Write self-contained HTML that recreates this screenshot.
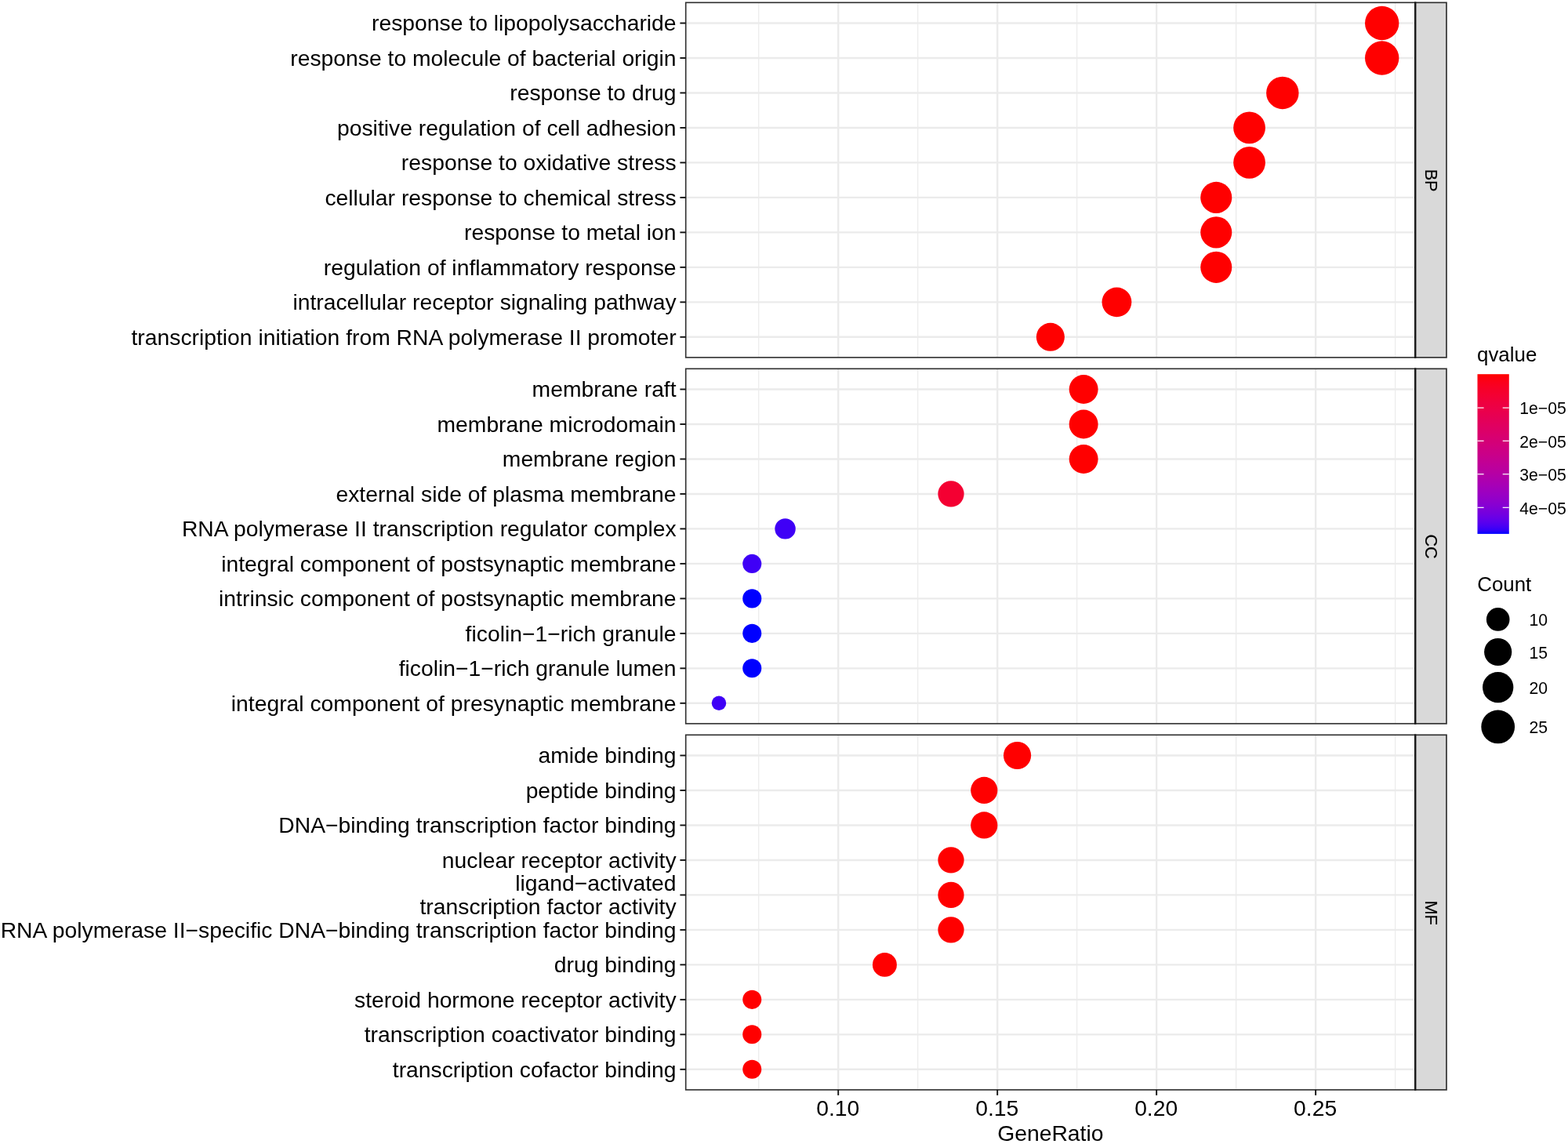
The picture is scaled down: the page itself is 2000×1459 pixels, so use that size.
<!DOCTYPE html><html><head><meta charset="utf-8"><style>html,body{margin:0;padding:0;background:#fff;}svg{display:block}</style></head><body>
<svg width="2000" height="1459" viewBox="0 0 2000 1459" font-family='"Liberation Sans", Arial, Helvetica, sans-serif'>
<rect x="0" y="0" width="2000" height="1459" fill="#FFFFFF"/>
<g>
<line x1="967.73" y1="3.30" x2="967.73" y2="455.90" stroke="#EBEBEB" stroke-width="1.2"/>
<line x1="1170.70" y1="3.30" x2="1170.70" y2="455.90" stroke="#EBEBEB" stroke-width="1.2"/>
<line x1="1373.68" y1="3.30" x2="1373.68" y2="455.90" stroke="#EBEBEB" stroke-width="1.2"/>
<line x1="1576.65" y1="3.30" x2="1576.65" y2="455.90" stroke="#EBEBEB" stroke-width="1.2"/>
<line x1="1779.63" y1="3.30" x2="1779.63" y2="455.90" stroke="#EBEBEB" stroke-width="1.2"/>
<line x1="1069.22" y1="3.30" x2="1069.22" y2="455.90" stroke="#EBEBEB" stroke-width="2.4"/>
<line x1="1272.19" y1="3.30" x2="1272.19" y2="455.90" stroke="#EBEBEB" stroke-width="2.4"/>
<line x1="1475.17" y1="3.30" x2="1475.17" y2="455.90" stroke="#EBEBEB" stroke-width="2.4"/>
<line x1="1678.14" y1="3.30" x2="1678.14" y2="455.90" stroke="#EBEBEB" stroke-width="2.4"/>
<line x1="874.70" y1="29.50" x2="1805.00" y2="29.50" stroke="#EBEBEB" stroke-width="2.4"/>
<line x1="874.70" y1="73.98" x2="1805.00" y2="73.98" stroke="#EBEBEB" stroke-width="2.4"/>
<line x1="874.70" y1="118.46" x2="1805.00" y2="118.46" stroke="#EBEBEB" stroke-width="2.4"/>
<line x1="874.70" y1="162.94" x2="1805.00" y2="162.94" stroke="#EBEBEB" stroke-width="2.4"/>
<line x1="874.70" y1="207.42" x2="1805.00" y2="207.42" stroke="#EBEBEB" stroke-width="2.4"/>
<line x1="874.70" y1="251.90" x2="1805.00" y2="251.90" stroke="#EBEBEB" stroke-width="2.4"/>
<line x1="874.70" y1="296.38" x2="1805.00" y2="296.38" stroke="#EBEBEB" stroke-width="2.4"/>
<line x1="874.70" y1="340.86" x2="1805.00" y2="340.86" stroke="#EBEBEB" stroke-width="2.4"/>
<line x1="874.70" y1="385.34" x2="1805.00" y2="385.34" stroke="#EBEBEB" stroke-width="2.4"/>
<line x1="874.70" y1="429.82" x2="1805.00" y2="429.82" stroke="#EBEBEB" stroke-width="2.4"/>
<circle cx="1762.71" cy="29.50" r="21.70" fill="#FF0000"/>
<circle cx="1762.71" cy="73.98" r="21.70" fill="#FF0000"/>
<circle cx="1635.85" cy="118.46" r="20.73" fill="#FF0000"/>
<circle cx="1593.57" cy="162.94" r="20.39" fill="#FF0000"/>
<circle cx="1593.57" cy="207.42" r="20.39" fill="#FF0000"/>
<circle cx="1551.28" cy="251.90" r="20.03" fill="#FF0000"/>
<circle cx="1551.28" cy="296.38" r="20.03" fill="#FF0000"/>
<circle cx="1551.28" cy="340.86" r="20.03" fill="#FF0000"/>
<circle cx="1424.42" cy="385.34" r="18.89" fill="#FF0000"/>
<circle cx="1339.85" cy="429.82" r="18.05" fill="#FF0000"/>
<rect x="874.70" y="3.30" width="930.30" height="452.60" fill="none" stroke="#333333" stroke-width="1.65"/>
<rect x="1805.00" y="3.30" width="40.00" height="452.60" fill="#D9D9D9" stroke="#333333" stroke-width="1.7"/>
<line x1="1805.25" y1="2.50" x2="1805.25" y2="456.70" stroke="#1A1A1A" stroke-width="2.4"/>
<text x="0" y="0" transform="translate(1817.50,230.10) rotate(90)" font-size="21.7" text-anchor="middle" fill="#000" stroke="#000" stroke-width="0.15">BP</text>
<line x1="867.40" y1="29.50" x2="874.70" y2="29.50" stroke="#111" stroke-width="1.9"/>
<text x="862.6" y="39.25" font-size="28.3" text-anchor="end" fill="#000">response to lipopolysaccharide</text>
<line x1="867.40" y1="73.98" x2="874.70" y2="73.98" stroke="#111" stroke-width="1.9"/>
<text x="862.6" y="83.73" font-size="28.3" text-anchor="end" fill="#000">response to molecule of bacterial origin</text>
<line x1="867.40" y1="118.46" x2="874.70" y2="118.46" stroke="#111" stroke-width="1.9"/>
<text x="862.6" y="128.21" font-size="28.3" text-anchor="end" fill="#000">response to drug</text>
<line x1="867.40" y1="162.94" x2="874.70" y2="162.94" stroke="#111" stroke-width="1.9"/>
<text x="862.6" y="172.69" font-size="28.3" text-anchor="end" fill="#000">positive regulation of cell adhesion</text>
<line x1="867.40" y1="207.42" x2="874.70" y2="207.42" stroke="#111" stroke-width="1.9"/>
<text x="862.6" y="217.17" font-size="28.3" text-anchor="end" fill="#000">response to oxidative stress</text>
<line x1="867.40" y1="251.90" x2="874.70" y2="251.90" stroke="#111" stroke-width="1.9"/>
<text x="862.6" y="261.65" font-size="28.3" text-anchor="end" fill="#000">cellular response to chemical stress</text>
<line x1="867.40" y1="296.38" x2="874.70" y2="296.38" stroke="#111" stroke-width="1.9"/>
<text x="862.6" y="306.13" font-size="28.3" text-anchor="end" fill="#000">response to metal ion</text>
<line x1="867.40" y1="340.86" x2="874.70" y2="340.86" stroke="#111" stroke-width="1.9"/>
<text x="862.6" y="350.61" font-size="28.3" text-anchor="end" fill="#000">regulation of inflammatory response</text>
<line x1="867.40" y1="385.34" x2="874.70" y2="385.34" stroke="#111" stroke-width="1.9"/>
<text x="862.6" y="395.09" font-size="28.3" text-anchor="end" fill="#000">intracellular receptor signaling pathway</text>
<line x1="867.40" y1="429.82" x2="874.70" y2="429.82" stroke="#111" stroke-width="1.9"/>
<text x="862.6" y="439.57" font-size="28.3" text-anchor="end" fill="#000">transcription initiation from RNA polymerase II promoter</text>
</g>
<g>
<line x1="967.73" y1="470.30" x2="967.73" y2="922.90" stroke="#EBEBEB" stroke-width="1.2"/>
<line x1="1170.70" y1="470.30" x2="1170.70" y2="922.90" stroke="#EBEBEB" stroke-width="1.2"/>
<line x1="1373.68" y1="470.30" x2="1373.68" y2="922.90" stroke="#EBEBEB" stroke-width="1.2"/>
<line x1="1576.65" y1="470.30" x2="1576.65" y2="922.90" stroke="#EBEBEB" stroke-width="1.2"/>
<line x1="1779.63" y1="470.30" x2="1779.63" y2="922.90" stroke="#EBEBEB" stroke-width="1.2"/>
<line x1="1069.22" y1="470.30" x2="1069.22" y2="922.90" stroke="#EBEBEB" stroke-width="2.4"/>
<line x1="1272.19" y1="470.30" x2="1272.19" y2="922.90" stroke="#EBEBEB" stroke-width="2.4"/>
<line x1="1475.17" y1="470.30" x2="1475.17" y2="922.90" stroke="#EBEBEB" stroke-width="2.4"/>
<line x1="1678.14" y1="470.30" x2="1678.14" y2="922.90" stroke="#EBEBEB" stroke-width="2.4"/>
<line x1="874.70" y1="496.50" x2="1805.00" y2="496.50" stroke="#EBEBEB" stroke-width="2.4"/>
<line x1="874.70" y1="540.98" x2="1805.00" y2="540.98" stroke="#EBEBEB" stroke-width="2.4"/>
<line x1="874.70" y1="585.46" x2="1805.00" y2="585.46" stroke="#EBEBEB" stroke-width="2.4"/>
<line x1="874.70" y1="629.94" x2="1805.00" y2="629.94" stroke="#EBEBEB" stroke-width="2.4"/>
<line x1="874.70" y1="674.42" x2="1805.00" y2="674.42" stroke="#EBEBEB" stroke-width="2.4"/>
<line x1="874.70" y1="718.90" x2="1805.00" y2="718.90" stroke="#EBEBEB" stroke-width="2.4"/>
<line x1="874.70" y1="763.38" x2="1805.00" y2="763.38" stroke="#EBEBEB" stroke-width="2.4"/>
<line x1="874.70" y1="807.86" x2="1805.00" y2="807.86" stroke="#EBEBEB" stroke-width="2.4"/>
<line x1="874.70" y1="852.34" x2="1805.00" y2="852.34" stroke="#EBEBEB" stroke-width="2.4"/>
<line x1="874.70" y1="896.82" x2="1805.00" y2="896.82" stroke="#EBEBEB" stroke-width="2.4"/>
<circle cx="1382.14" cy="496.50" r="18.48" fill="#FF0000"/>
<circle cx="1382.14" cy="540.98" r="18.48" fill="#FF0000"/>
<circle cx="1382.14" cy="585.46" r="18.48" fill="#FF0000"/>
<circle cx="1212.99" cy="629.94" r="16.62" fill="#F40032"/>
<circle cx="1001.56" cy="674.42" r="13.19" fill="#3F00F6"/>
<circle cx="959.27" cy="718.90" r="12.03" fill="#3F00F6"/>
<circle cx="959.27" cy="763.38" r="12.03" fill="#0000FF"/>
<circle cx="959.27" cy="807.86" r="12.03" fill="#0000FF"/>
<circle cx="959.27" cy="852.34" r="12.03" fill="#0000FF"/>
<circle cx="916.99" cy="896.82" r="9.25" fill="#3F00F6"/>
<rect x="874.70" y="470.30" width="930.30" height="452.60" fill="none" stroke="#333333" stroke-width="1.65"/>
<rect x="1805.00" y="470.30" width="40.00" height="452.60" fill="#D9D9D9" stroke="#333333" stroke-width="1.7"/>
<line x1="1805.25" y1="469.50" x2="1805.25" y2="923.70" stroke="#1A1A1A" stroke-width="2.4"/>
<text x="0" y="0" transform="translate(1817.50,697.10) rotate(90)" font-size="21.7" text-anchor="middle" fill="#000" stroke="#000" stroke-width="0.15">CC</text>
<line x1="867.40" y1="496.50" x2="874.70" y2="496.50" stroke="#111" stroke-width="1.9"/>
<text x="862.6" y="506.25" font-size="28.3" text-anchor="end" fill="#000">membrane raft</text>
<line x1="867.40" y1="540.98" x2="874.70" y2="540.98" stroke="#111" stroke-width="1.9"/>
<text x="862.6" y="550.73" font-size="28.3" text-anchor="end" fill="#000">membrane microdomain</text>
<line x1="867.40" y1="585.46" x2="874.70" y2="585.46" stroke="#111" stroke-width="1.9"/>
<text x="862.6" y="595.21" font-size="28.3" text-anchor="end" fill="#000">membrane region</text>
<line x1="867.40" y1="629.94" x2="874.70" y2="629.94" stroke="#111" stroke-width="1.9"/>
<text x="862.6" y="639.69" font-size="28.3" text-anchor="end" fill="#000">external side of plasma membrane</text>
<line x1="867.40" y1="674.42" x2="874.70" y2="674.42" stroke="#111" stroke-width="1.9"/>
<text x="862.6" y="684.17" font-size="28.3" text-anchor="end" fill="#000">RNA polymerase II transcription regulator complex</text>
<line x1="867.40" y1="718.90" x2="874.70" y2="718.90" stroke="#111" stroke-width="1.9"/>
<text x="862.6" y="728.65" font-size="28.3" text-anchor="end" fill="#000">integral component of postsynaptic membrane</text>
<line x1="867.40" y1="763.38" x2="874.70" y2="763.38" stroke="#111" stroke-width="1.9"/>
<text x="862.6" y="773.13" font-size="28.3" text-anchor="end" fill="#000">intrinsic component of postsynaptic membrane</text>
<line x1="867.40" y1="807.86" x2="874.70" y2="807.86" stroke="#111" stroke-width="1.9"/>
<text x="862.6" y="817.61" font-size="28.3" text-anchor="end" fill="#000">ficolin−1−rich granule</text>
<line x1="867.40" y1="852.34" x2="874.70" y2="852.34" stroke="#111" stroke-width="1.9"/>
<text x="862.6" y="862.09" font-size="28.3" text-anchor="end" fill="#000">ficolin−1−rich granule lumen</text>
<line x1="867.40" y1="896.82" x2="874.70" y2="896.82" stroke="#111" stroke-width="1.9"/>
<text x="862.6" y="906.57" font-size="28.3" text-anchor="end" fill="#000">integral component of presynaptic membrane</text>
</g>
<g>
<line x1="967.73" y1="937.30" x2="967.73" y2="1389.90" stroke="#EBEBEB" stroke-width="1.2"/>
<line x1="1170.70" y1="937.30" x2="1170.70" y2="1389.90" stroke="#EBEBEB" stroke-width="1.2"/>
<line x1="1373.68" y1="937.30" x2="1373.68" y2="1389.90" stroke="#EBEBEB" stroke-width="1.2"/>
<line x1="1576.65" y1="937.30" x2="1576.65" y2="1389.90" stroke="#EBEBEB" stroke-width="1.2"/>
<line x1="1779.63" y1="937.30" x2="1779.63" y2="1389.90" stroke="#EBEBEB" stroke-width="1.2"/>
<line x1="1069.22" y1="937.30" x2="1069.22" y2="1389.90" stroke="#EBEBEB" stroke-width="2.4"/>
<line x1="1272.19" y1="937.30" x2="1272.19" y2="1389.90" stroke="#EBEBEB" stroke-width="2.4"/>
<line x1="1475.17" y1="937.30" x2="1475.17" y2="1389.90" stroke="#EBEBEB" stroke-width="2.4"/>
<line x1="1678.14" y1="937.30" x2="1678.14" y2="1389.90" stroke="#EBEBEB" stroke-width="2.4"/>
<line x1="874.70" y1="963.50" x2="1805.00" y2="963.50" stroke="#EBEBEB" stroke-width="2.4"/>
<line x1="874.70" y1="1007.98" x2="1805.00" y2="1007.98" stroke="#EBEBEB" stroke-width="2.4"/>
<line x1="874.70" y1="1052.46" x2="1805.00" y2="1052.46" stroke="#EBEBEB" stroke-width="2.4"/>
<line x1="874.70" y1="1096.94" x2="1805.00" y2="1096.94" stroke="#EBEBEB" stroke-width="2.4"/>
<line x1="874.70" y1="1141.42" x2="1805.00" y2="1141.42" stroke="#EBEBEB" stroke-width="2.4"/>
<line x1="874.70" y1="1185.90" x2="1805.00" y2="1185.90" stroke="#EBEBEB" stroke-width="2.4"/>
<line x1="874.70" y1="1230.38" x2="1805.00" y2="1230.38" stroke="#EBEBEB" stroke-width="2.4"/>
<line x1="874.70" y1="1274.86" x2="1805.00" y2="1274.86" stroke="#EBEBEB" stroke-width="2.4"/>
<line x1="874.70" y1="1319.34" x2="1805.00" y2="1319.34" stroke="#EBEBEB" stroke-width="2.4"/>
<line x1="874.70" y1="1363.82" x2="1805.00" y2="1363.82" stroke="#EBEBEB" stroke-width="2.4"/>
<circle cx="1297.56" cy="963.50" r="17.60" fill="#FF0000"/>
<circle cx="1255.28" cy="1007.98" r="17.12" fill="#FF0000"/>
<circle cx="1255.28" cy="1052.46" r="17.12" fill="#FF0000"/>
<circle cx="1212.99" cy="1096.94" r="16.62" fill="#FF0000"/>
<circle cx="1212.99" cy="1141.42" r="16.62" fill="#FF0000"/>
<circle cx="1212.99" cy="1185.90" r="16.62" fill="#FF0000"/>
<circle cx="1128.42" cy="1230.38" r="15.47" fill="#FF0000"/>
<circle cx="959.27" cy="1274.86" r="12.03" fill="#FF0000"/>
<circle cx="959.27" cy="1319.34" r="12.03" fill="#FF0000"/>
<circle cx="959.27" cy="1363.82" r="12.03" fill="#FF0000"/>
<rect x="874.70" y="937.30" width="930.30" height="452.60" fill="none" stroke="#333333" stroke-width="1.65"/>
<rect x="1805.00" y="937.30" width="40.00" height="452.60" fill="#D9D9D9" stroke="#333333" stroke-width="1.7"/>
<line x1="1805.25" y1="936.50" x2="1805.25" y2="1390.70" stroke="#1A1A1A" stroke-width="2.4"/>
<text x="0" y="0" transform="translate(1817.50,1164.10) rotate(90)" font-size="21.7" text-anchor="middle" fill="#000" stroke="#000" stroke-width="0.15">MF</text>
<line x1="867.40" y1="963.50" x2="874.70" y2="963.50" stroke="#111" stroke-width="1.9"/>
<text x="862.6" y="973.25" font-size="28.3" text-anchor="end" fill="#000">amide binding</text>
<line x1="867.40" y1="1007.98" x2="874.70" y2="1007.98" stroke="#111" stroke-width="1.9"/>
<text x="862.6" y="1017.73" font-size="28.3" text-anchor="end" fill="#000">peptide binding</text>
<line x1="867.40" y1="1052.46" x2="874.70" y2="1052.46" stroke="#111" stroke-width="1.9"/>
<text x="862.6" y="1062.21" font-size="28.3" text-anchor="end" fill="#000">DNA−binding transcription factor binding</text>
<line x1="867.40" y1="1096.94" x2="874.70" y2="1096.94" stroke="#111" stroke-width="1.9"/>
<text x="862.6" y="1106.69" font-size="28.3" text-anchor="end" fill="#000">nuclear receptor activity</text>
<line x1="867.40" y1="1141.42" x2="874.70" y2="1141.42" stroke="#111" stroke-width="1.9"/>
<text x="862.6" y="1135.97" font-size="28.3" text-anchor="end" fill="#000">ligand−activated</text>
<text x="862.6" y="1166.37" font-size="28.3" text-anchor="end" fill="#000">transcription factor activity</text>
<line x1="867.40" y1="1185.90" x2="874.70" y2="1185.90" stroke="#111" stroke-width="1.9"/>
<text x="862.6" y="1195.65" font-size="28.3" text-anchor="end" fill="#000">RNA polymerase II−specific DNA−binding transcription factor binding</text>
<line x1="867.40" y1="1230.38" x2="874.70" y2="1230.38" stroke="#111" stroke-width="1.9"/>
<text x="862.6" y="1240.13" font-size="28.3" text-anchor="end" fill="#000">drug binding</text>
<line x1="867.40" y1="1274.86" x2="874.70" y2="1274.86" stroke="#111" stroke-width="1.9"/>
<text x="862.6" y="1284.61" font-size="28.3" text-anchor="end" fill="#000">steroid hormone receptor activity</text>
<line x1="867.40" y1="1319.34" x2="874.70" y2="1319.34" stroke="#111" stroke-width="1.9"/>
<text x="862.6" y="1329.09" font-size="28.3" text-anchor="end" fill="#000">transcription coactivator binding</text>
<line x1="867.40" y1="1363.82" x2="874.70" y2="1363.82" stroke="#111" stroke-width="1.9"/>
<text x="862.6" y="1373.57" font-size="28.3" text-anchor="end" fill="#000">transcription cofactor binding</text>
</g>
<line x1="1069.22" y1="1389.90" x2="1069.22" y2="1396.90" stroke="#111" stroke-width="1.9"/>
<text x="1068.72" y="1422.6" font-size="28.3" text-anchor="middle" fill="#000">0.10</text>
<line x1="1272.19" y1="1389.90" x2="1272.19" y2="1396.90" stroke="#111" stroke-width="1.9"/>
<text x="1271.69" y="1422.6" font-size="28.3" text-anchor="middle" fill="#000">0.15</text>
<line x1="1475.17" y1="1389.90" x2="1475.17" y2="1396.90" stroke="#111" stroke-width="1.9"/>
<text x="1474.67" y="1422.6" font-size="28.3" text-anchor="middle" fill="#000">0.20</text>
<line x1="1678.14" y1="1389.90" x2="1678.14" y2="1396.90" stroke="#111" stroke-width="1.9"/>
<text x="1677.64" y="1422.6" font-size="28.3" text-anchor="middle" fill="#000">0.25</text>
<text x="1339.85" y="1454.6" font-size="28.3" text-anchor="middle" fill="#000">GeneRatio</text>
<text x="1884.0" y="461.4" font-size="25.9" fill="#000">qvalue</text>
<defs><linearGradient id="qg" x1="0" y1="0" x2="0" y2="1">
<stop offset="0.000" stop-color="#FF0000"/>
<stop offset="0.025" stop-color="#FD000F"/>
<stop offset="0.050" stop-color="#FB001A"/>
<stop offset="0.075" stop-color="#F90023"/>
<stop offset="0.100" stop-color="#F6002A"/>
<stop offset="0.125" stop-color="#F40031"/>
<stop offset="0.150" stop-color="#F20037"/>
<stop offset="0.175" stop-color="#EF003E"/>
<stop offset="0.200" stop-color="#ED0044"/>
<stop offset="0.225" stop-color="#EB004A"/>
<stop offset="0.250" stop-color="#E80050"/>
<stop offset="0.275" stop-color="#E50055"/>
<stop offset="0.300" stop-color="#E3005B"/>
<stop offset="0.325" stop-color="#E00061"/>
<stop offset="0.350" stop-color="#DD0066"/>
<stop offset="0.375" stop-color="#DA006C"/>
<stop offset="0.400" stop-color="#D70072"/>
<stop offset="0.425" stop-color="#D40077"/>
<stop offset="0.450" stop-color="#D1007D"/>
<stop offset="0.475" stop-color="#CD0083"/>
<stop offset="0.500" stop-color="#CA0088"/>
<stop offset="0.525" stop-color="#C6008E"/>
<stop offset="0.550" stop-color="#C20094"/>
<stop offset="0.575" stop-color="#BE009A"/>
<stop offset="0.600" stop-color="#BA009F"/>
<stop offset="0.625" stop-color="#B500A5"/>
<stop offset="0.650" stop-color="#B000AB"/>
<stop offset="0.675" stop-color="#AB00B1"/>
<stop offset="0.700" stop-color="#A600B7"/>
<stop offset="0.725" stop-color="#A000BD"/>
<stop offset="0.750" stop-color="#9A00C3"/>
<stop offset="0.775" stop-color="#9400C8"/>
<stop offset="0.800" stop-color="#8D00CE"/>
<stop offset="0.825" stop-color="#8500D4"/>
<stop offset="0.850" stop-color="#7C00DA"/>
<stop offset="0.875" stop-color="#7300E0"/>
<stop offset="0.900" stop-color="#6800E7"/>
<stop offset="0.925" stop-color="#5B00ED"/>
<stop offset="0.950" stop-color="#4B00F3"/>
<stop offset="0.975" stop-color="#3500F9"/>
<stop offset="1.000" stop-color="#0000FF"/>
</linearGradient></defs>
<rect x="1884.5" y="477.2" width="40.30" height="203.70" fill="url(#qg)"/>
<line x1="1884.5" y1="520.1" x2="1892.60" y2="520.1" stroke="#FFFFFF" stroke-width="1.2"/>
<line x1="1916.70" y1="520.1" x2="1924.8" y2="520.1" stroke="#FFFFFF" stroke-width="1.2"/>
<text x="1938.3" y="528.40" font-size="21.2" fill="#000">1e−05</text>
<line x1="1884.5" y1="562.3" x2="1892.60" y2="562.3" stroke="#FFFFFF" stroke-width="1.2"/>
<line x1="1916.70" y1="562.3" x2="1924.8" y2="562.3" stroke="#FFFFFF" stroke-width="1.2"/>
<text x="1938.3" y="570.60" font-size="21.2" fill="#000">2e−05</text>
<line x1="1884.5" y1="604.7" x2="1892.60" y2="604.7" stroke="#FFFFFF" stroke-width="1.2"/>
<line x1="1916.70" y1="604.7" x2="1924.8" y2="604.7" stroke="#FFFFFF" stroke-width="1.2"/>
<text x="1938.3" y="613.00" font-size="21.2" fill="#000">3e−05</text>
<line x1="1884.5" y1="647.3" x2="1892.60" y2="647.3" stroke="#FFFFFF" stroke-width="1.2"/>
<line x1="1916.70" y1="647.3" x2="1924.8" y2="647.3" stroke="#FFFFFF" stroke-width="1.2"/>
<text x="1938.3" y="655.60" font-size="21.2" fill="#000">4e−05</text>
<text x="1884.2" y="754.4" font-size="25.9" fill="#000">Count</text>
<circle cx="1910.7" cy="789.9" r="14.82" fill="#000"/>
<text x="1950.5" y="797.90" font-size="21.2" fill="#000">10</text>
<circle cx="1910.7" cy="831.5" r="17.60" fill="#000"/>
<text x="1950.5" y="839.50" font-size="21.2" fill="#000">15</text>
<circle cx="1910.7" cy="876.6" r="19.67" fill="#000"/>
<text x="1950.5" y="884.60" font-size="21.2" fill="#000">20</text>
<circle cx="1910.7" cy="926.9" r="21.38" fill="#000"/>
<text x="1950.5" y="934.90" font-size="21.2" fill="#000">25</text>
</svg></body></html>
